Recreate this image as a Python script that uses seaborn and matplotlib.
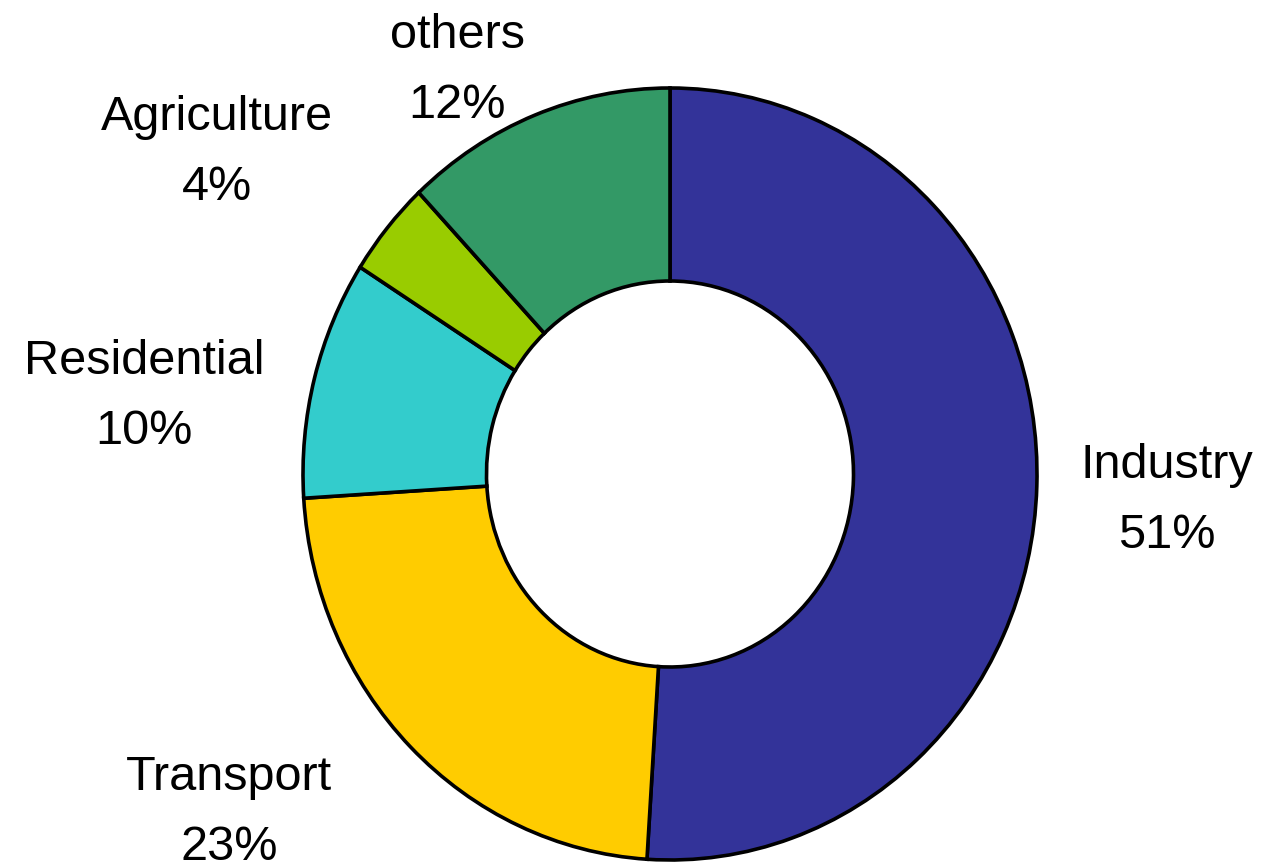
import matplotlib
matplotlib.use("Agg")
import matplotlib.pyplot as plt
import seaborn as sns

categories = ["Industry", "Transport", "Residential", "Agriculture", "others"]
values = [51, 23, 10, 4, 12]
colors = ["#333399", "#FFCC00", "#33CCCC", "#99CC00", "#339966"]

sns.set_theme(style="white")
plt.rcParams["font.family"] = ["Liberation Sans", "DejaVu Sans"]

W, H = 1264, 864
fig = plt.figure(figsize=(W / 100, H / 100), dpi=100)
fig.patch.set_facecolor("white")

# axes box matching outer ellipse of the donut (pixels)
cx, cy, rx, ry = 670, 474, 367, 386
ax = fig.add_axes([(cx - rx) / W, 1 - (cy + ry) / H, 2 * rx / W, 2 * ry / H])
wedges, _ = ax.pie(values, colors=colors, startangle=90, counterclock=False,
                   radius=1.0,
                   wedgeprops=dict(width=0.5, edgecolor="black", linewidth=2.6))
for w in wedges:
    w.set_clip_on(False)
ax.set_aspect("auto")
ax.set_xlim(-1, 1)
ax.set_ylim(-1, 1)
ax.axis("off")

# label anchor positions (pixel coords: center x, last-line baseline y)
label_pos = {
    "Industry": (1167, 548),
    "Transport": (229, 860),
    "Residential": (144, 444),
    "Agriculture": (217, 200),
    "others": (457, 118),
}
for cat, val in zip(categories, values):
    x, y = label_pos[cat]
    fig.text(x / W, 1 - y / H, f"{cat}\n{val}%", ha="center", va="baseline",
             fontsize=35, linespacing=1.72, color="black")

fig.savefig("out.png", dpi=100, facecolor="white")
